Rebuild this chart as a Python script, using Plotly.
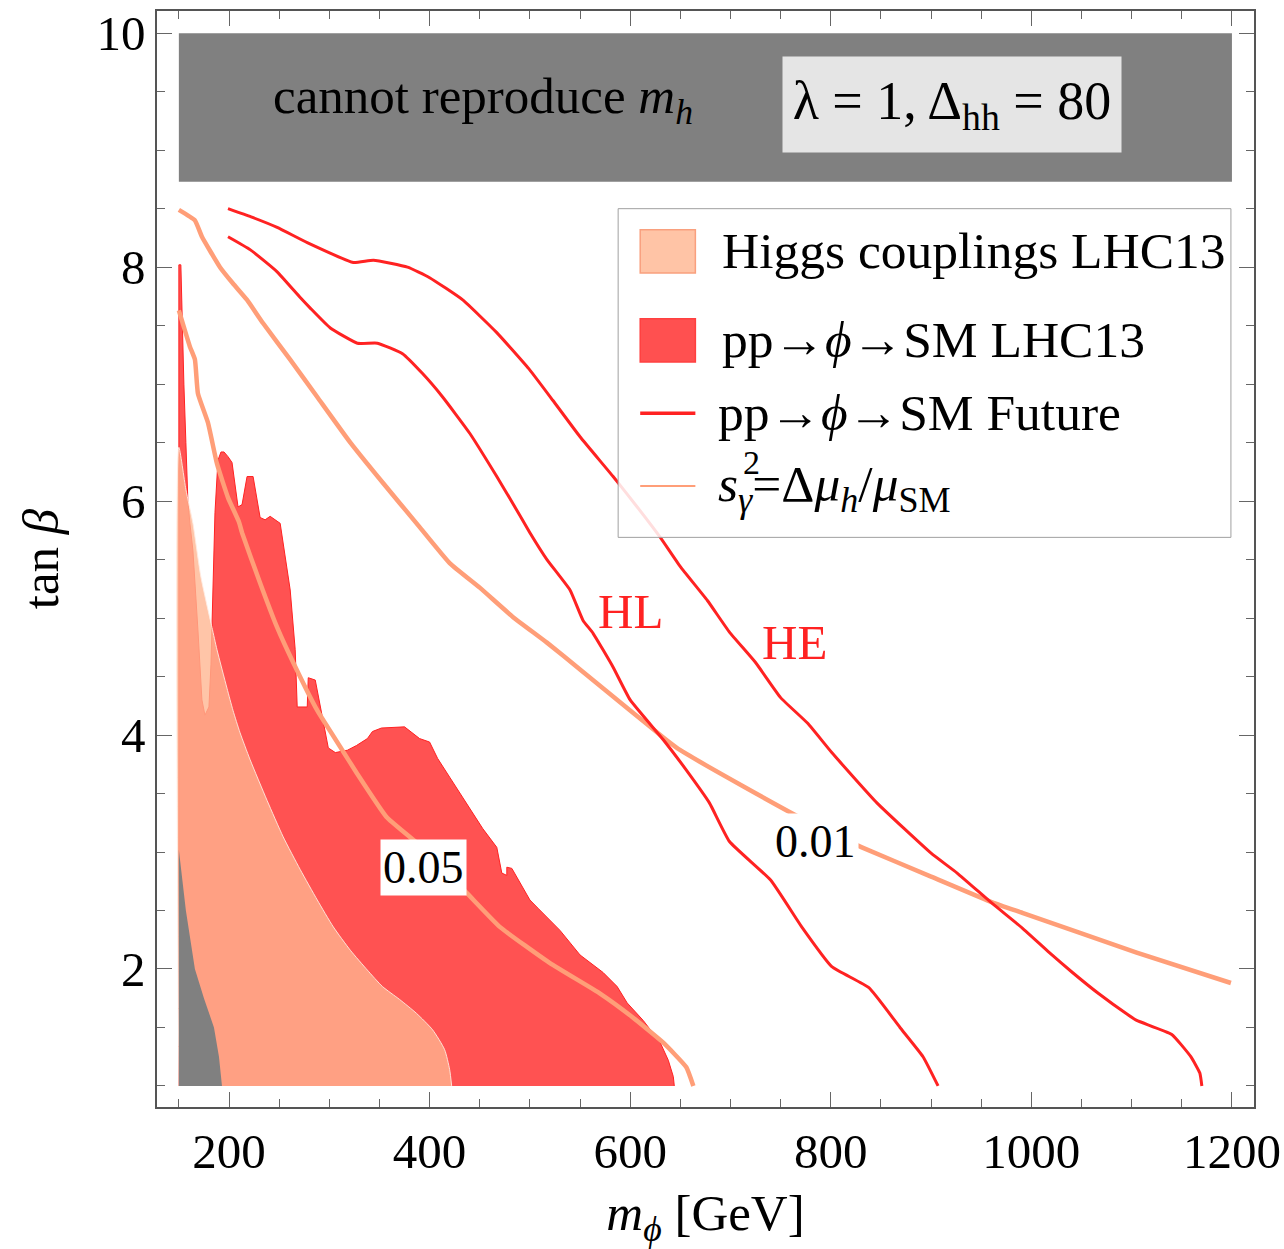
import plotly.graph_objects as go

# ---------------- data (m_phi [GeV], tan beta) ----------------
band_x = [150, 1200, 1200, 150]
band_y = [8.73, 8.73, 10.0, 10.0]

gray_low_x = [150, 150, 157, 166, 175, 185, 190, 193]
gray_low_y = [1.0, 3.02, 2.5, 2.0, 1.75, 1.5, 1.25, 1.0]

lhc13_x = [150, 150, 152, 153, 155, 157, 159, 161, 164, 169, 173, 176,
           180, 182, 183, 184, 186, 189, 192, 195, 199, 203, 209, 213, 218, 224,
           231, 236, 241, 251, 261, 266, 268, 278, 279, 286, 299, 306, 318, 327,
           338, 343, 352, 375, 390, 400, 403, 408, 420, 440, 453, 467, 468, 472,
           477, 477, 482, 490, 500, 508, 530, 550, 573, 587, 597, 613, 630, 638,
           643, 644]
lhc13_y = [1.0, 8.02, 8.02, 7.6, 7.0, 6.5, 6.0, 5.81, 5.58, 4.9, 4.30, 4.17,
           4.24, 4.6, 4.92, 5.4, 5.9, 6.35, 6.42, 6.42, 6.38, 6.33, 5.95, 5.97, 6.21, 6.21,
           5.86, 5.84, 5.87, 5.81, 5.24, 4.73, 4.24, 4.24, 4.49, 4.47, 3.89, 3.85, 3.87, 3.91,
           3.97, 4.03, 4.06, 4.07, 3.97, 3.94, 3.89, 3.80, 3.64, 3.38, 3.20, 3.04, 3.0, 2.82,
           2.80, 2.87, 2.86, 2.74, 2.59, 2.52, 2.33, 2.12, 1.97, 1.85, 1.71, 1.56, 1.37, 1.22,
           1.08, 1.0]

higgs_x = [150, 150, 157, 164, 172, 183, 188, 198, 204, 211, 221, 238, 254, 271,
           288, 304, 321, 338, 353, 370, 387, 403, 415, 420, 422]
higgs_y = [1.0, 6.46, 6.1, 5.81, 5.35, 4.92, 4.73, 4.40, 4.21, 4.02, 3.79, 3.44, 3.13, 2.85,
           2.59, 2.36, 2.16, 1.99, 1.85, 1.74, 1.62, 1.48, 1.31, 1.14, 1.0]

hl_x = [199, 221, 248, 271, 281, 301, 328, 348, 373, 393, 413, 440, 467, 483, 500, 517,
        540, 553, 563, 583, 600, 633, 656, 679, 699, 740, 771, 801, 838, 869, 892, 907]
hl_y = [8.26, 8.15, 7.96, 7.74, 7.65, 7.48, 7.35, 7.35, 7.26, 7.09, 6.89, 6.58, 6.21, 5.98,
        5.73, 5.50, 5.24, 4.98, 4.87, 4.58, 4.30, 3.96, 3.70, 3.42, 3.09, 2.76, 2.36, 2.02,
        1.84, 1.50, 1.25, 1.0]

he_x = [199, 222, 248, 278, 324, 344, 378, 400, 433, 467, 500, 523, 550, 583, 607, 630,
        650, 677, 699, 725, 750, 777, 801, 846, 900, 926, 961, 991, 1018, 1041, 1067, 1096,
        1105, 1140, 1159, 1168, 1170]
he_y = [8.50, 8.43, 8.34, 8.21, 8.04, 8.06, 8.00, 7.91, 7.72, 7.44, 7.12, 6.86, 6.55, 6.21,
        5.95, 5.69, 5.44, 5.15, 4.88, 4.62, 4.32, 4.10, 3.85, 3.42, 2.99, 2.82, 2.56, 2.35,
        2.14, 1.97, 1.79, 1.61, 1.56, 1.44, 1.25, 1.11, 1.0]

s001_x = [150, 166, 173, 191, 204, 218, 234, 261, 288, 321, 354, 387, 420, 450, 483, 517,
          550, 600, 633, 650, 713, 777, 831, 900, 961, 991, 1105, 1199]
s001_y = [8.49, 8.40, 8.26, 8.0, 7.86, 7.72, 7.52, 7.21, 6.89, 6.50, 6.15, 5.81, 5.47, 5.26,
          5.01, 4.79, 4.56, 4.21, 3.98, 3.87, 3.56, 3.26, 3.04, 2.79, 2.57, 2.48, 2.14, 1.88]

s005_x = [150, 161, 166, 169, 179, 188, 199, 210, 213, 231, 248, 264, 288, 313, 327, 357,
          387, 437, 470, 520, 570, 602, 633, 656, 663]
s005_y = [7.63, 7.32, 7.21, 6.92, 6.67, 6.32, 6.03, 5.82, 5.73, 5.30, 4.92, 4.62, 4.21, 3.87,
          3.68, 3.30, 3.08, 2.65, 2.36, 2.05, 1.79, 1.59, 1.37, 1.16, 1.0]

x_ticks = [200, 400, 600, 800, 1000, 1200]
y_ticks = [2, 4, 6, 8, 10]

legend_labels = ["Higgs couplings LHC13",
                 "pp→<i>ϕ</i>→SM LHC13",
                 "pp→<i>ϕ</i>→SM Future",
                 "<i>s</i><sub><i>γ</i></sub>=Δ<i>μ</i><sub><i>h</i></sub>/<i>μ</i><sub>SM</sub>"]

# ---------------- styles ----------------
FONT = "Liberation Serif, Times New Roman, serif"
RED_FILL = "#FF5252"
RED_LINE = "#FF2222"
ORANGE = "#FF9E78"
HIGGS_FILL = "rgba(255,181,145,0.79)"
GRAY = "#808080"

fig = go.Figure()

fig.add_trace(go.Scatter(x=band_x, y=band_y, fill="toself", fillcolor=GRAY,
                         line=dict(width=0), mode="lines", hoverinfo="skip"))
fig.add_trace(go.Scatter(x=lhc13_x, y=lhc13_y, fill="toself", fillcolor=RED_FILL,
                         line=dict(color=RED_LINE, width=1), mode="lines"))
fig.add_trace(go.Scatter(x=higgs_x, y=higgs_y, fill="toself", fillcolor=HIGGS_FILL,
                         line=dict(color="rgba(255,235,225,0.9)", width=1, shape="spline", smoothing=0.6),
                         mode="lines"))
fig.add_trace(go.Scatter(x=gray_low_x, y=gray_low_y, fill="toself", fillcolor=GRAY,
                         line=dict(width=0), mode="lines"))
for xs, ys in ((s005_x, s005_y), (s001_x, s001_y)):
    fig.add_trace(go.Scatter(x=xs, y=ys, mode="lines",
                             line=dict(color=ORANGE, width=4.5, shape="spline", smoothing=0.4)))
for xs, ys in ((hl_x, hl_y), (he_x, he_y)):
    fig.add_trace(go.Scatter(x=xs, y=ys, mode="lines",
                             line=dict(color=RED_LINE, width=3, shape="spline", smoothing=0.4)))

shapes = [
    # legend frame
    dict(type="rect", xref="x", yref="y", x0=588, x1=1199, y0=5.69, y1=8.50,
         fillcolor="rgba(255,255,255,0.85)", line=dict(color="#A0A0A0", width=1), layer="above"),
    dict(type="rect", xref="x", yref="y", x0=610, x1=665, y0=7.95, y1=8.32,
         fillcolor="#FFC4A6", line=dict(color="#F9A07E", width=1.5), layer="above"),
    dict(type="rect", xref="x", yref="y", x0=610, x1=665, y0=7.19, y1=7.56,
         fillcolor="#FF5050", line=dict(color="#FF4040", width=1.5), layer="above"),
    dict(type="line", xref="x", yref="y", x0=610, x1=665, y0=6.75, y1=6.75,
         line=dict(color=RED_LINE, width=3.5), layer="above"),
    dict(type="line", xref="x", yref="y", x0=610, x1=665, y0=6.13, y1=6.13,
         line=dict(color=ORANGE, width=2), layer="above"),
]

ann = []
ann.append(dict(x=453, y=9.43, xref="x", yref="y", showarrow=False,
                text="cannot reproduce <i>m</i><sub><i>h</i></sub>",
                font=dict(family=FONT, size=51, color="black")))
ann.append(dict(x=921, y=9.39, xref="x", yref="y", showarrow=False,
                text="λ = 1, Δ<sub>hh</sub> = 80", bgcolor="#E5E5E5",
                width=338, height=95, borderpad=0,
                font=dict(family=FONT, size=54, color="black")))
leg_y = [8.14, 7.38, 6.76, 6.12]
leg_x = [690, 690, 686, 686]
for lx, ly, lt in zip(leg_x, leg_y, legend_labels):
    ann.append(dict(x=lx, y=ly, xref="x", yref="y", showarrow=False, xanchor="left",
                    text=lt, font=dict(family=FONT, size=51.5, color="black")))
ann.append(dict(x=710, y=6.33, xref="x", yref="y", showarrow=False, text="2",
                xanchor="left", font=dict(family=FONT, size=34, color="black")))
ann.append(dict(x=600, y=5.06, xref="x", yref="y", showarrow=False, text="HL",
                font=dict(family=FONT, size=49, color="#FF2222")))
ann.append(dict(x=764, y=4.79, xref="x", yref="y", showarrow=False, text="HE",
                font=dict(family=FONT, size=49, color="#FF2222")))
ann.append(dict(x=394, y=2.87, xref="x", yref="y", showarrow=False, text="0.05",
                bgcolor="white", borderpad=2, font=dict(family=FONT, size=46, color="black")))
ann.append(dict(x=785, y=3.09, xref="x", yref="y", showarrow=False, text="0.01",
                bgcolor="white", borderpad=2, font=dict(family=FONT, size=46, color="black")))

axis_common = dict(showgrid=False, zeroline=False, showline=True, linecolor="#555555",
                   linewidth=1.5, mirror="allticks", ticks="inside", ticklen=15,
                   tickwidth=1.2, tickcolor="#666666", automargin=False,
                   tickfont=dict(family=FONT, size=49, color="black"))

fig.update_layout(
    width=1284, height=1249,
    margin=dict(l=157, r=30, t=11, b=142),
    paper_bgcolor="white", plot_bgcolor="white",
    showlegend=False,
    shapes=shapes, annotations=ann,
    xaxis=dict(range=[128.2, 1222], tickvals=x_ticks,
               minor=dict(dtick=50, tick0=0, ticklen=8, ticks="inside", tickcolor="#666666", tickwidth=1),
               title=dict(text="<i>m</i><sub><i>ϕ</i></sub> [GeV]",
                          font=dict(family=FONT, size=51, color="black"), standoff=24),
               **axis_common),
    yaxis=dict(range=[0.82, 10.19], tickvals=y_ticks,
               minor=dict(dtick=0.5, tick0=0, ticklen=8, ticks="inside", tickcolor="#666666", tickwidth=1),
               title=dict(text="tan <i>β</i>", font=dict(family=FONT, size=51, color="black"), standoff=22),
               **axis_common),
)

fig.write_html("out.html")
